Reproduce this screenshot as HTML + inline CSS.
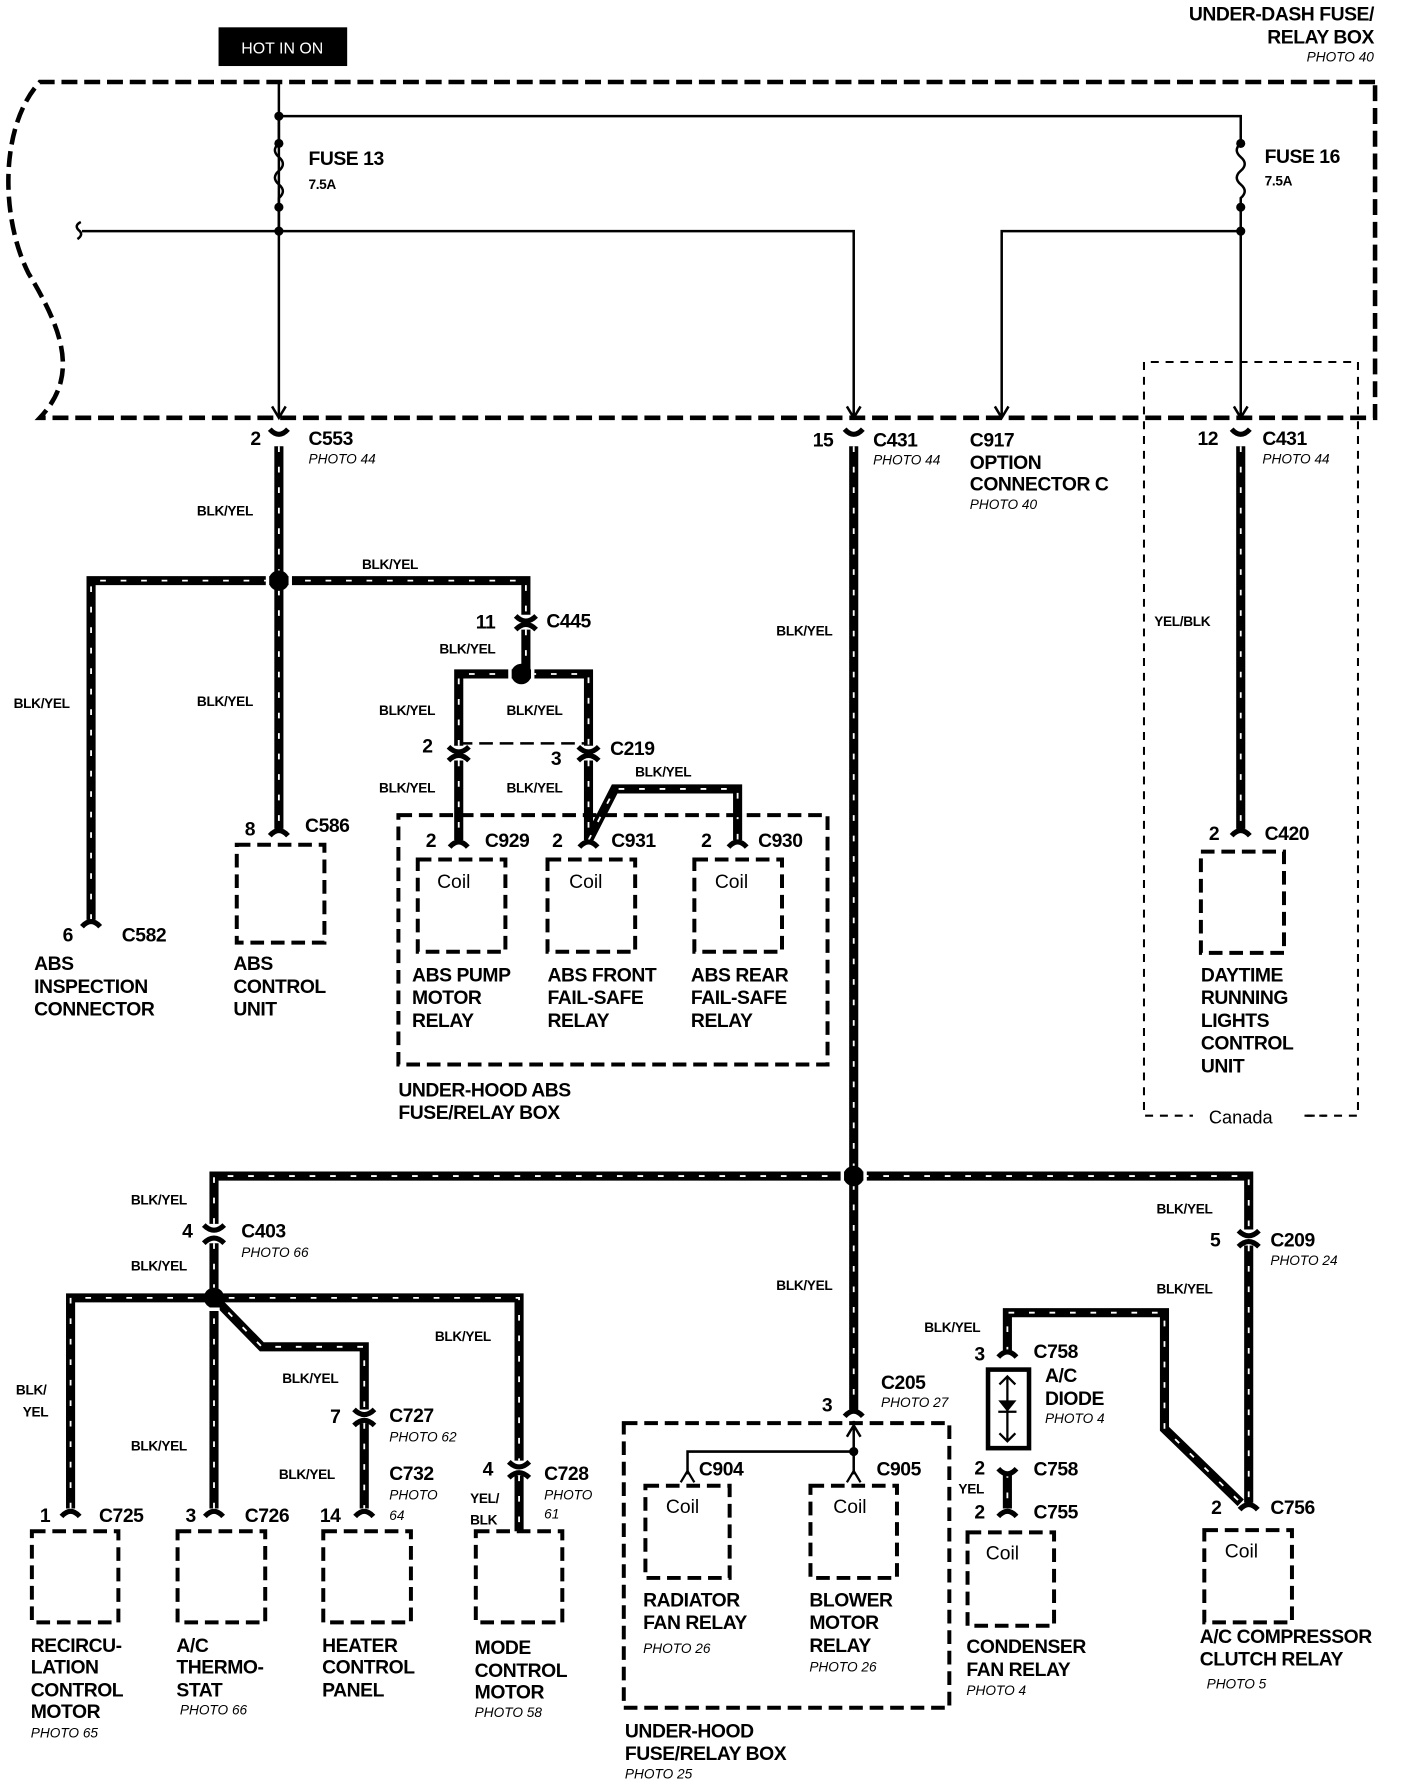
<!DOCTYPE html>
<html><head><meta charset="utf-8"><style>
html,body{margin:0;padding:0;background:#fff}
svg{display:block}
text{font-family:"Liberation Sans",Arial,sans-serif;font-weight:bold;fill:#000}
.b{font-size:17px;letter-spacing:-0.4px}
.s{font-size:12px;letter-spacing:-0.3px}
.p{font-size:12px;font-style:italic;font-weight:normal}
</style></head><body>
<svg width="1424" height="1784" viewBox="0 0 1251 1567" preserveAspectRatio="none" xmlns="http://www.w3.org/2000/svg">
<defs>
<g id="T" fill="none">
<path d="M245 392 V728"/>
<path d="M80 808 V510 H462 V540"/>
<path d="M462 553 V592"/>
<path d="M403 655 V592 H517 V655"/>
<path d="M403 668 V738"/>
<path d="M517 668 V738"/>
<path d="M517 738 L540 693 H648 V738"/>
<path d="M1090 392 V728"/>
<path d="M750 392 V1238"/>
<path d="M188 1075 V1033 H1097 V1080"/>
<path d="M188 1092 V1140"/>
<path d="M62 1325 V1140 H456 V1283"/>
<path d="M188 1140 V1325"/>
<path d="M188 1140 L230 1183 H320 V1238"/>
<path d="M320 1250 V1325"/>
<path d="M456 1296 V1345"/>
<path d="M1097 1094 V1320"/>
<path d="M885 1188 V1153 H1023 V1255 L1090 1320"/>
<path d="M885 1293 V1325"/>
</g>
</defs>

<rect x="192" y="24" width="113" height="34" fill="#000"/>
<text x="248" y="47" text-anchor="middle" style="font-size:14px;font-weight:normal;fill:#fff">HOT IN ON</text>
<text x="1207" y="18" text-anchor="end" class="b">UNDER-DASH FUSE/</text>
<text x="1207" y="38" text-anchor="end" class="b">RELAY BOX</text>
<text x="1207" y="54" text-anchor="end" class="p">PHOTO 40</text>

<path d="M1208 72 H35 C0 110 0 190 25 240 C55 290 70 330 35 367 H1208 V72" fill="none" stroke="#000" stroke-width="4" stroke-dasharray="14 6"/>

<g fill="none" stroke="#000" stroke-width="2.2">
<path d="M245 72 V367"/>
<path d="M245 102 H1090 V126"/>
<path d="M245 102 V126"/>
<path d="M245 126 q-7 6 0 12 q7 6 0 12 q-7 6 0 12 q7 6 0 12 V203"/>
<path d="M1090 126 q-7 6 0 12 q7 6 0 12 q-7 6 0 12 q7 6 0 12 V367"/>
<path d="M72 203 H750 V367"/>
<path d="M1090 203 H880 V367"/>
<path d="M71 195 q-6 3 -2 7 q5 4 -1 8"/>
<path d="M239 357 L245 367 L251 357 M744 357 L750 367 L756 357 M874 357 L880 367 L886 357 M1084 357 L1090 367 L1096 357"/>
<path d="M403 653 H517" stroke-dasharray="12 6"/>
<path d="M750 1248 V1295 M604 1295 V1275 H750"/>
<path d="M744 1262 L750 1252 L756 1262"/>
</g>
<g fill="#000">
<circle cx="245" cy="102" r="4"/><circle cx="245" cy="126" r="4"/><circle cx="245" cy="182" r="4"/><circle cx="245" cy="203" r="4"/>
<circle cx="1090" cy="126" r="4"/><circle cx="1090" cy="182" r="4"/><circle cx="1090" cy="203" r="4"/>
<circle cx="750" cy="1275" r="4"/>
</g>
<text x="271" y="145" class="b">FUSE 13</text>
<text x="271" y="166" class="s">7.5A</text>
<text x="1111" y="143" class="b">FUSE 16</text>
<text x="1111" y="163" class="s">7.5A</text>

<path d="M1055 980 H1193 V318 H1005 V980 H1048" fill="none" stroke="#000" stroke-width="1.8" stroke-dasharray="7 6"/>
<rect x="1050" y="970" width="95" height="20" fill="#fff"/>
<text x="1062" y="987" style="font-size:16px;font-weight:normal">Canada</text>
<path d="M1148 980 H1165" stroke="#000" stroke-width="1.8" stroke-dasharray="7 6"/>

<use href="#T" stroke="#000" stroke-width="8"/>
<use href="#T" stroke="#fff" stroke-width="1.6" stroke-dasharray="5 13"/>
<g fill="#000">
<circle cx="245" cy="510" r="9"/><circle cx="458" cy="592" r="9"/><circle cx="750" cy="1033" r="9"/><circle cx="188" cy="1140" r="9"/>
</g>
<g stroke="#fff" stroke-width="3">
<path d="M235 505 V515 M255 505 V515 M448 587 V597 M468 587 V597 M740 1028 V1038 M760 1028 V1038 M183 1150 H193"/>
</g>

<g fill="none" stroke="#000" stroke-width="4.5">
<path d="M237 377 Q245 386 253 377 M742 377 Q750 386 758 377 M1082 377 Q1090 386 1098 377"/>
<path d="M453 541 Q462 550 471 541 M453 553 Q462 544 471 553"/>
<path d="M394 656 Q403 665 412 656 M394 668 Q403 659 412 668"/>
<path d="M508 656 Q517 665 526 656 M508 668 Q517 659 526 668"/>
<path d="M179 1076 Q188 1085 197 1076 M179 1092 Q188 1083 197 1092"/>
<path d="M1088 1081 Q1097 1090 1106 1081 M1088 1095 Q1097 1086 1106 1095"/>
<path d="M311 1238 Q320 1247 329 1238 M311 1252 Q320 1243 329 1252"/>
<path d="M447 1284 Q456 1293 465 1284 M447 1298 Q456 1289 465 1298"/>
<path d="M395 744 Q403 735 411 744 M509 744 Q517 735 525 744 M640 744 Q648 735 656 744"/>
<path d="M237 734 Q245 725 253 734 M72 814 Q80 805 88 814 M1082 734 Q1090 725 1098 734"/>
<path d="M54 1332 Q62 1323 70 1332 M180 1332 Q188 1323 196 1332 M312 1332 Q320 1323 328 1332"/>
<path d="M742 1244 Q750 1235 758 1244"/>
<path d="M877 1192 Q885 1183 893 1192 M877 1290 Q885 1299 893 1290 M877 1332 Q885 1323 893 1332 M1089 1326 Q1097 1317 1105 1326"/>
</g>
<g fill="none" stroke="#000" stroke-width="2">
<path d="M598 1302 L604 1292 L610 1302 M744 1302 L750 1292 L756 1302"/>
</g>

<rect x="868" y="1203" width="36" height="69" fill="none" stroke="#000" stroke-width="4"/>
<g stroke="#000" stroke-width="2" fill="none">
<path d="M885 1209 V1266 M878 1216 L885 1209 L892 1216 M878 1259 L885 1266 L892 1259 M877 1240 H893"/>
</g>
<path d="M877 1230 H893 L885 1240 Z" fill="#000"/>

<g fill="none" stroke="#000" stroke-width="3.5" stroke-dasharray="12 6">
<rect x="350" y="716" width="377" height="219"/>
<rect x="367" y="755" width="77" height="81"/>
<rect x="481" y="755" width="77" height="81"/>
<rect x="610" y="755" width="77" height="81"/>
<rect x="208" y="742" width="77" height="86"/>
<rect x="1055" y="748" width="73" height="89"/>
<rect x="28" y="1345" width="76" height="80"/>
<rect x="156" y="1345" width="77" height="80"/>
<rect x="284" y="1345" width="77" height="80"/>
<rect x="418" y="1345" width="76" height="80"/>
<rect x="548" y="1250" width="286" height="250"/>
<rect x="567" y="1305" width="74" height="81"/>
<rect x="712" y="1305" width="76" height="81"/>
<rect x="850" y="1346" width="76" height="82"/>
<rect x="1058" y="1344" width="77" height="81"/>
</g>

<g>
<text x="384" y="780" style="font-size:17px;font-weight:normal">Coil</text>
<text x="500" y="780" style="font-size:17px;font-weight:normal">Coil</text>
<text x="628" y="780" style="font-size:17px;font-weight:normal">Coil</text>
<text x="585" y="1329" style="font-size:17px;font-weight:normal">Coil</text>
<text x="732" y="1329" style="font-size:17px;font-weight:normal">Coil</text>
<text x="866" y="1370" style="font-size:17px;font-weight:normal">Coil</text>
<text x="1076" y="1368" style="font-size:17px;font-weight:normal">Coil</text>
</g>

<g>
<text x="220" y="391" class="b">2</text><text x="271" y="391" class="b">C553</text>
<text x="714" y="392" class="b">15</text><text x="767" y="392" class="b">C431</text>
<text x="852" y="392" class="b">C917</text><text x="852" y="412" class="b">OPTION</text><text x="852" y="431" class="b">CONNECTOR C</text>
<text x="1052" y="391" class="b">12</text><text x="1109" y="391" class="b">C431</text>
<text x="418" y="552" class="b">11</text><text x="480" y="551" class="b">C445</text>
<text x="371" y="661" class="b">2</text><text x="484" y="672" class="b">3</text><text x="536" y="663" class="b">C219</text>
<text x="374" y="744" class="b">2</text><text x="426" y="744" class="b">C929</text>
<text x="485" y="744" class="b">2</text><text x="537" y="744" class="b">C931</text>
<text x="616" y="744" class="b">2</text><text x="666" y="744" class="b">C930</text>
<text x="215" y="734" class="b">8</text><text x="268" y="731" class="b">C586</text>
<text x="55" y="827" class="b">6</text><text x="107" y="827" class="b">C582</text>
<text x="1062" y="738" class="b">2</text><text x="1111" y="738" class="b">C420</text>
<text x="160" y="1087" class="b">4</text><text x="212" y="1087" class="b">C403</text>
<text x="1063" y="1095" class="b">5</text><text x="1116" y="1095" class="b">C209</text>
<text x="290" y="1250" class="b">7</text><text x="342" y="1249" class="b">C727</text>
<text x="342" y="1300" class="b">C732</text>
<text x="424" y="1296" class="b">4</text><text x="478" y="1300" class="b">C728</text>
<text x="35" y="1337" class="b">1</text><text x="87" y="1337" class="b">C725</text>
<text x="163" y="1337" class="b">3</text><text x="215" y="1337" class="b">C726</text>
<text x="281" y="1337" class="b">14</text>
<text x="722" y="1240" class="b">3</text><text x="774" y="1220" class="b">C205</text>
<text x="614" y="1296" class="b">C904</text><text x="770" y="1296" class="b">C905</text>
<text x="856" y="1195" class="b">3</text><text x="908" y="1193" class="b">C758</text>
<text x="918" y="1214" class="b">A/C</text><text x="918" y="1234" class="b">DIODE</text>
<text x="856" y="1295" class="b">2</text><text x="908" y="1296" class="b">C758</text>
<text x="856" y="1334" class="b">2</text><text x="908" y="1334" class="b">C755</text>
<text x="1064" y="1330" class="b">2</text><text x="1116" y="1330" class="b">C756</text>
</g>
<g>
<text x="271" y="407" class="p">PHOTO 44</text>
<text x="767" y="408" class="p">PHOTO 44</text>
<text x="852" y="447" class="p">PHOTO 40</text>
<text x="1109" y="407" class="p">PHOTO 44</text>
<text x="212" y="1104" class="p">PHOTO 66</text>
<text x="1116" y="1111" class="p">PHOTO 24</text>
<text x="342" y="1266" class="p">PHOTO 62</text>
<text x="342" y="1317" class="p">PHOTO</text><text x="342" y="1335" class="p">64</text>
<text x="478" y="1317" class="p">PHOTO</text><text x="478" y="1334" class="p">61</text>
<text x="774" y="1236" class="p">PHOTO 27</text>
<text x="918" y="1250" class="p">PHOTO 4</text>
</g>

<g>
<text x="173" y="453" class="s">BLK/YEL</text>
<text x="318" y="500" class="s">BLK/YEL</text>
<text x="12" y="622" class="s">BLK/YEL</text>
<text x="173" y="620" class="s">BLK/YEL</text>
<text x="386" y="574" class="s">BLK/YEL</text>
<text x="333" y="628" class="s">BLK/YEL</text>
<text x="445" y="628" class="s">BLK/YEL</text>
<text x="333" y="696" class="s">BLK/YEL</text>
<text x="445" y="696" class="s">BLK/YEL</text>
<text x="558" y="682" class="s">BLK/YEL</text>
<text x="682" y="558" class="s">BLK/YEL</text>
<text x="1014" y="550" class="s">YEL/BLK</text>
<text x="115" y="1058" class="s">BLK/YEL</text>
<text x="115" y="1116" class="s">BLK/YEL</text>
<text x="1016" y="1066" class="s">BLK/YEL</text>
<text x="1016" y="1136" class="s">BLK/YEL</text>
<text x="682" y="1133" class="s">BLK/YEL</text>
<text x="812" y="1170" class="s">BLK/YEL</text>
<text x="14" y="1225" class="s">BLK/</text><text x="20" y="1244" class="s">YEL</text>
<text x="115" y="1274" class="s">BLK/YEL</text>
<text x="248" y="1215" class="s">BLK/YEL</text>
<text x="382" y="1178" class="s">BLK/YEL</text>
<text x="245" y="1299" class="s">BLK/YEL</text>
<text x="413" y="1320" class="s">YEL/</text><text x="413" y="1339" class="s">BLK</text>
<text x="842" y="1312" class="s">YEL</text>
</g>

<g>
<text x="362" y="862" class="b">ABS PUMP</text><text x="362" y="882" class="b">MOTOR</text><text x="362" y="902" class="b">RELAY</text>
<text x="481" y="862" class="b">ABS FRONT</text><text x="481" y="882" class="b">FAIL-SAFE</text><text x="481" y="902" class="b">RELAY</text>
<text x="607" y="862" class="b">ABS REAR</text><text x="607" y="882" class="b">FAIL-SAFE</text><text x="607" y="902" class="b">RELAY</text>
<text x="350" y="963" class="b">UNDER-HOOD ABS</text><text x="350" y="983" class="b">FUSE/RELAY BOX</text>
<text x="205" y="852" class="b">ABS</text><text x="205" y="872" class="b">CONTROL</text><text x="205" y="892" class="b">UNIT</text>
<text x="30" y="852" class="b">ABS</text><text x="30" y="872" class="b">INSPECTION</text><text x="30" y="892" class="b">CONNECTOR</text>
<text x="1055" y="862" class="b">DAYTIME</text><text x="1055" y="882" class="b">RUNNING</text><text x="1055" y="902" class="b">LIGHTS</text><text x="1055" y="922" class="b">CONTROL</text><text x="1055" y="942" class="b">UNIT</text>
<text x="27" y="1451" class="b">RECIRCU-</text><text x="27" y="1470" class="b">LATION</text><text x="27" y="1490" class="b">CONTROL</text><text x="27" y="1509" class="b">MOTOR</text>
<text x="155" y="1451" class="b">A/C</text><text x="155" y="1470" class="b">THERMO-</text><text x="155" y="1490" class="b">STAT</text>
<text x="283" y="1451" class="b">HEATER</text><text x="283" y="1470" class="b">CONTROL</text><text x="283" y="1490" class="b">PANEL</text>
<text x="417" y="1453" class="b">MODE</text><text x="417" y="1473" class="b">CONTROL</text><text x="417" y="1492" class="b">MOTOR</text>
<text x="565" y="1411" class="b">RADIATOR</text><text x="565" y="1431" class="b">FAN RELAY</text>
<text x="711" y="1411" class="b">BLOWER</text><text x="711" y="1431" class="b">MOTOR</text><text x="711" y="1451" class="b">RELAY</text>
<text x="549" y="1526" class="b">UNDER-HOOD</text><text x="549" y="1546" class="b">FUSE/RELAY BOX</text>
<text x="849" y="1452" class="b">CONDENSER</text><text x="849" y="1472" class="b">FAN RELAY</text>
<text x="1054" y="1443" class="b">A/C COMPRESSOR</text><text x="1054" y="1463" class="b">CLUTCH RELAY</text>
</g>
<g>
<text x="27" y="1526" class="p">PHOTO 65</text>
<text x="158" y="1506" class="p">PHOTO 66</text>
<text x="417" y="1508" class="p">PHOTO 58</text>
<text x="565" y="1452" class="p">PHOTO 26</text>
<text x="711" y="1468" class="p">PHOTO 26</text>
<text x="549" y="1562" class="p">PHOTO 25</text>
<text x="849" y="1489" class="p">PHOTO 4</text>
<text x="1060" y="1483" class="p">PHOTO 5</text>
</g>
</svg>
</body></html>
